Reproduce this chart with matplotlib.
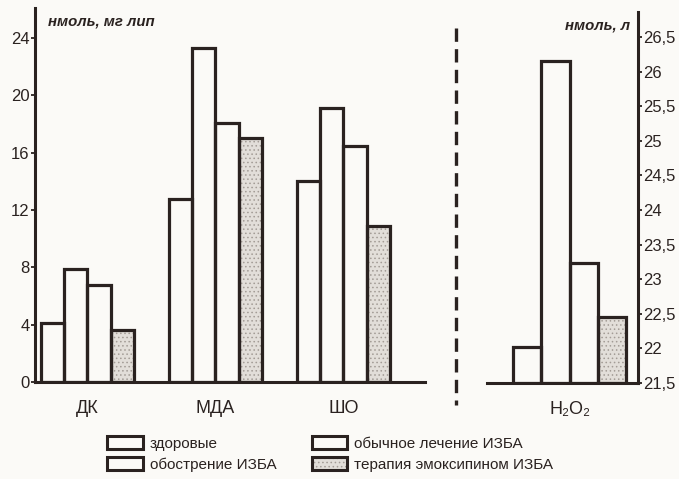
import matplotlib
matplotlib.use("Agg")
import matplotlib.pyplot as plt
from matplotlib.patches import Rectangle
from matplotlib.lines import Line2D
from matplotlib.legend_handler import HandlerTuple

# data
groups = ["ДК", "МДА", "ШО"]
series = ["здоровые", "обострение ИЗБА", "обычное лечение ИЗБА",
          "терапия эмоксипином ИЗБА"]
zdorovye = [4.1, 12.8, 14.0]
obostrenie = [7.9, 23.3, 19.1]
obychnoe = [6.8, 18.1, 16.5]
emoksipin = [3.6, 17.0, 10.9]

h2o2_label = "H₂O₂"
h2o2 = [22.02, 26.15, 23.23, 22.45]

left_ticks = [0, 4, 8, 12, 16, 20, 24]
right_ticks = [21.5, 22, 22.5, 23, 23.5, 24, 24.5, 25, 25.5, 26, 26.5]
right_ticklabels = ["21,5", "22", "22,5", "23", "23,5", "24", "24,5",
                    "25", "25,5", "26", "26,5"]

ink = "#2a2220"
bg = "#fbfaf7"
plt.rcParams["font.family"] = ["Liberation Sans", "DejaVu Sans"]
plt.rcParams["hatch.linewidth"] = 0.6

fig = plt.figure(figsize=(6.79, 4.79), dpi=100, facecolor=bg)


def draw_bar(ax, x, h, w, stipple, bottom=0):
    if stipple:
        ax.bar(x, h, w, bottom=bottom, color="#e2ded9", edgecolor="#a39c96",
               hatch="....", linewidth=0, zorder=2)
    ax.bar(x, h, w, bottom=bottom, facecolor="none", edgecolor=ink,
           linewidth=2.3, zorder=3)


def style(ax):
    ax.set_facecolor("none")
    for s in ax.spines.values():
        s.set_color(ink)
        s.set_linewidth(2.2)
    ax.spines["top"].set_visible(False)
    ax.tick_params(axis="y", colors=ink, labelsize=12, length=3, width=1.3,
                   pad=1)
    ax.tick_params(axis="x", length=0, labelsize=13, pad=13, colors=ink)


# left panel
ax = fig.add_axes([35 / 679, 1 - 382 / 479, 390 / 679, 374 / 479])
style(ax)
ax.spines["right"].set_visible(False)
w = 0.18
cols = [zdorovye, obostrenie, obychnoe, emoksipin]
for i, vals in enumerate(cols):
    for g, v in enumerate(vals):
        draw_bar(ax, g + (i - 1.5) * w, v, w, i == 3)
ax.set_xlim(-0.41, 2.637)
ax.set_ylim(0, 26.1)
ax.set_yticks(left_ticks)
ax.set_xticks(range(len(groups)), groups)
fig.text(48 / 679, 1 - 22 / 479, "нмоль, мг лип", ha="left", va="center",
         fontsize=10.8, fontweight="bold", fontstyle="italic", color=ink)

# right panel
ax2 = fig.add_axes([487 / 679, 1 - 383 / 479, 151 / 679, 371 / 479])
style(ax2)
ax2.spines["left"].set_visible(False)
ax2.yaxis.tick_right()
w2 = 0.22
for i, v in enumerate(h2o2):
    draw_bar(ax2, (i - 1.5) * w2, v - 21.5, w2, i == 3, bottom=21.5)
ax2.set_xlim(-0.645, 0.535)
ax2.set_ylim(21.5, 26.86)
ax2.set_yticks(right_ticks, right_ticklabels)
ax2.set_xticks([0], [h2o2_label])
fig.text(630 / 679, 1 - 25 / 479, "нмоль, л", ha="right", va="center",
         fontsize=10.8, fontweight="bold", fontstyle="italic", color=ink)

# dashed separator
fig.add_artist(Line2D([456 / 679, 456 / 679], [1 - 28 / 479, 1 - 405 / 479],
                      transform=fig.transFigure, color=ink, lw=2.4,
                      dashes=(4, 2.2)))

# legend
handles = [Rectangle((0, 0), 1, 1, facecolor="none", edgecolor=ink, lw=2.2)
           for _ in range(3)]
st = (Rectangle((0, 0), 1, 1, facecolor="#e2ded9", edgecolor="#a39c96",
                hatch="....", lw=0),
      Rectangle((0, 0), 1, 1, facecolor="none", edgecolor=ink, lw=2.2))
handles.append(st)
fig.legend(handles, series, ncol=2, loc="upper left",
           bbox_to_anchor=(107 / 679, 1 - 436 / 479), frameon=False,
           fontsize=11, handlelength=2.35, handleheight=0.9,
           handletextpad=0.45, columnspacing=2.3, labelspacing=0.45,
           borderpad=0, borderaxespad=0, labelcolor=ink,
           handler_map={tuple: HandlerTuple(ndivide=1, pad=0)})

fig.savefig("out.png", dpi=100, facecolor=bg)
